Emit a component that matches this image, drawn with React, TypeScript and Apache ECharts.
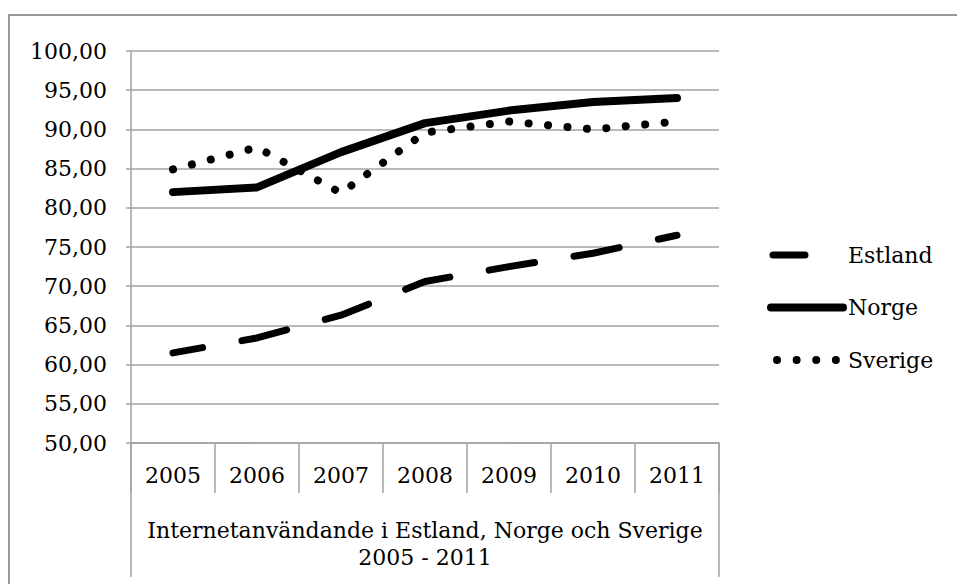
import React, { useEffect, useRef } from "react";
import * as echarts from "echarts";

const years = ["2005", "2006", "2007", "2008", "2009", "2010", "2011"];
const estland = [61.5, 63.4, 66.3, 70.6, 72.5, 74.2, 76.5];
const norge = [82.0, 82.6, 87.1, 90.8, 92.4, 93.5, 94.0];
const sverige = [84.9, 87.7, 81.9, 89.6, 91.0, 90.0, 91.0];
const seriesNames = ["Estland", "Norge", "Sverige"];
const groupLabel = ["Internetanvändande i Estland, Norge och Sverige\n2005 - 2011"];

const FONT = "DejaVu Serif";
const GRAY = "#a3a3a3";

export default function App() {
  const ref = useRef<HTMLDivElement>(null);
  useEffect(() => {
    if (!ref.current) return;
    const chart = echarts.init(ref.current, undefined, { renderer: "svg" });
    chart.setOption({
      animation: false,
      backgroundColor: "#ffffff",
      textStyle: { fontFamily: FONT },
      graphic: [
        {
          type: "rect",
          shape: { x: 9, y: 15, width: 1000, height: 1000 },
          style: { fill: "none", stroke: "#9a9a9a", lineWidth: 2 },
          silent: true,
        },
      ],
      grid: { left: 131, right: 957 - 719, top: 51, bottom: 584 - 443, containLabel: false },
      legend: {
        orient: "vertical",
        left: 762,
        top: 239,
        itemWidth: 72,
        itemHeight: 2,
        itemGap: 30.5,
        itemStyle: { opacity: 0, color: "rgba(0,0,0,0)", borderWidth: 0 },
        data: [
          {
            name: seriesNames[0],
            lineStyle: { width: 7, type: [32, 200], dashOffset: -2, cap: "round" },
          },
          {
            name: seriesNames[1],
            lineStyle: { width: 8, type: "solid", cap: "round" },
          },
          {
            name: seriesNames[2],
            lineStyle: { width: 8, type: [0.01, 19.6], dashOffset: -6, cap: "round" },
          },
        ],
        textStyle: { fontFamily: FONT, fontSize: 22, color: "#000" },
      },
      xAxis: [
        {
          type: "category",
          data: years,
          position: "bottom",
          boundaryGap: true,
          axisLine: { show: true, lineStyle: { color: GRAY, width: 1.5 } },
          axisTick: { show: true, interval: 0, length: 50, lineStyle: { color: GRAY, width: 1.5 } },
          axisLabel: { interval: 0, margin: 21, color: "#000", fontFamily: FONT, fontSize: 22 },
        },
        {
          type: "category",
          data: groupLabel,
          position: "bottom",
          boundaryGap: true,
          axisLine: { show: false },
          axisTick: { show: true, interval: 0, length: 134, lineStyle: { color: GRAY, width: 1.5 } },
          axisLabel: {
            interval: 0,
            margin: 74,
            color: "#000",
            fontFamily: FONT,
            fontSize: 22,
            lineHeight: 27,
          },
        },
      ],
      yAxis: {
        type: "value",
        min: 50,
        max: 100,
        interval: 5,
        axisLine: { show: true, lineStyle: { color: GRAY, width: 1.5 } },
        axisTick: { show: true, length: 5, lineStyle: { color: GRAY, width: 1.5 } },
        splitLine: { show: true, lineStyle: { color: GRAY, width: 1.5 } },
        axisLabel: {
          margin: 24,
          color: "#000",
          fontFamily: FONT,
          fontSize: 22,
          formatter: (v: number) => v.toFixed(2).replace(".", ","),
        },
      },
      series: [
        {
          name: seriesNames[0],
          type: "line",
          data: estland,
          symbol: "none",
          color: "#000",
          lineStyle: { color: "#000", width: 7, type: [46, 40], dashOffset: 15.5, cap: "round", join: "round" },
        },
        {
          name: seriesNames[1],
          type: "line",
          data: norge,
          symbol: "none",
          color: "#000",
          lineStyle: { color: "#000", width: 8, type: "solid", cap: "round", join: "round" },
        },
        {
          name: seriesNames[2],
          type: "line",
          data: sverige,
          symbol: "none",
          color: "#000",
          lineStyle: { color: "#000", width: 8, type: [0.01, 19.5], cap: "round", join: "round" },
        },
      ],
    });
    return () => chart.dispose();
  }, []);
  return (
    <div
      ref={ref}
      style={{ position: "absolute", left: 0, top: 0, width: 957, height: 584, background: "#fff" }}
    />
  );
}
